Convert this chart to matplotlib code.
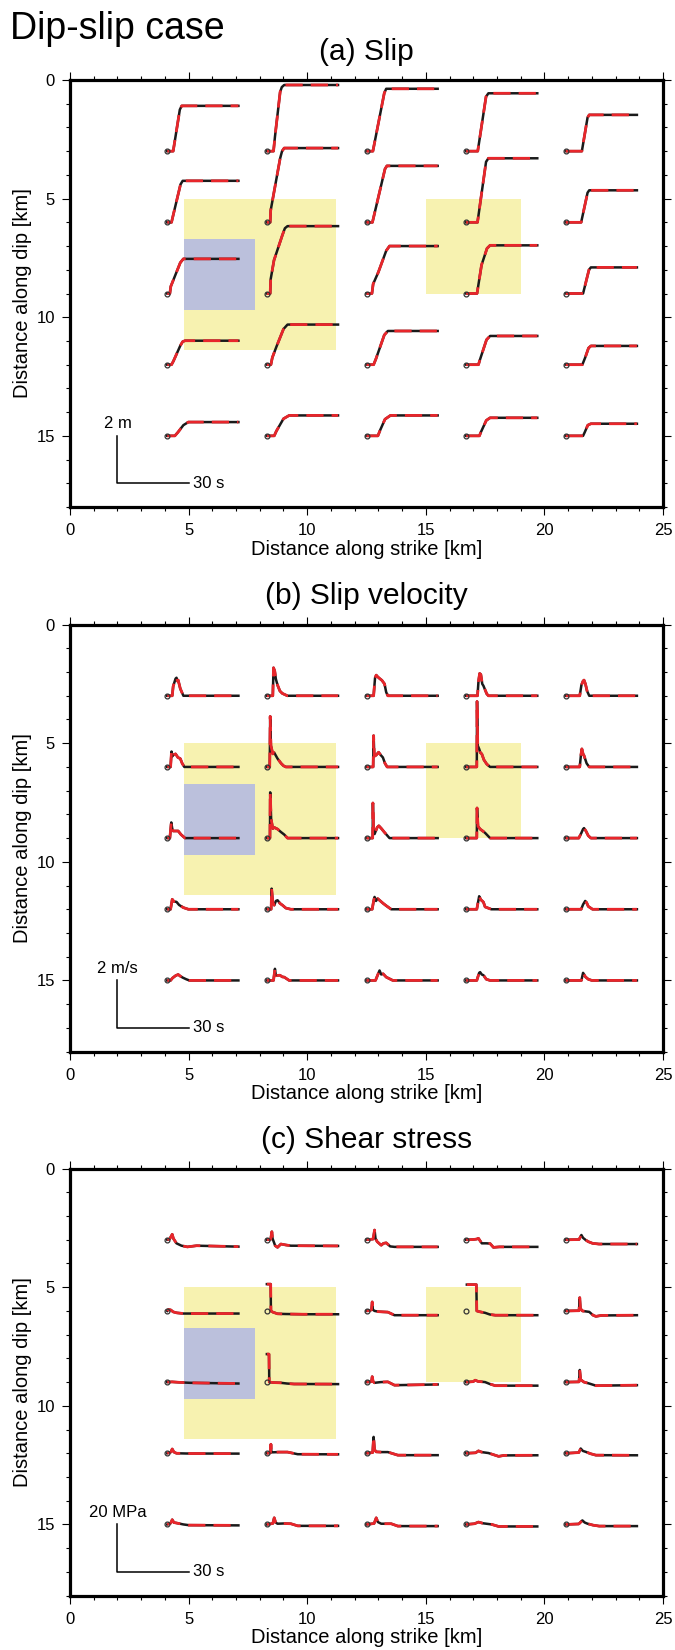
import matplotlib
matplotlib.use('Agg')
import matplotlib.pyplot as plt
from matplotlib.patches import Rectangle
import numpy as np

plt.rcParams['font.family'] = ['Liberation Sans', 'DejaVu Sans']

# ---------------- data ----------------
station_x = [4.1, 8.3, 12.5, 16.7, 20.9]      # km along strike (trace origin)
station_y = [3, 6, 9, 12, 15]                 # km along dip

# asperity regions (x, y, width, height) in km
yellow_rects = [(4.8, 5.0, 6.4, 6.4), (15.0, 5.0, 4.0, 4.0)]
blue_rects = [(4.8, 6.7, 3.0, 3.0)]

# time series keypoints (time [s], value), row by row (dip 3..15), column by column
slip = [
    # dip 3 km
    [(0,0),(2.5,0),(5.3,1.75),(6.1,1.91),(30,1.91)],
    [(0,0),(2.8,0),(3.4,0.6),(5.6,2.5),(6.3,2.7),(7.3,2.79),(30,2.79)],
    [(0,0),(2.7,0),(7.5,2.45),(8.3,2.63),(30,2.63)],
    [(0,0),(4.9,0),(8.4,2.3),(9.4,2.44),(30,2.44)],
    [(0,0),(6.8,0),(9.2,1.42),(9.9,1.53),(30,1.53)],
    # dip 6 km
    [(0,0),(1.8,0),(2.5,0.3),(5.6,1.6),(6.5,1.75),(30,1.75)],
    [(0,0),(1.4,0),(1.6,0.5),(5.6,2.7),(6.4,3.0),(7.3,3.13),(30,3.13)],
    [(0,0),(2.5,0),(7.8,2.25),(8.6,2.38),(30,2.38)],
    [(0,0),(4.8,0),(8.4,2.55),(9.4,2.70),(30,2.70)],
    [(0,0),(6.5,0),(9.2,1.25),(9.9,1.35),(30,1.35)],
    # dip 9 km
    [(0,0),(1.1,0),(1.5,0.3),(5.5,1.3),(6.8,1.46),(30,1.46)],
    [(0,0),(1.4,0),(1.6,0.6),(3.0,1.4),(6.5,2.45),(7.6,2.75),(8.7,2.84),(30,2.84)],
    [(0,0),(2.3,0),(2.8,0.4),(5.0,0.9),(8.3,1.8),(9.7,2.0),(30,2.0)],
    [(0,0),(4.6,0),(6.5,1.2),(8.8,1.9),(10.1,2.03),(30,2.03)],
    [(0,0),(7.3,0),(9.8,1.0),(10.6,1.10),(30,1.10)],
    # dip 12 km
    [(0,0),(1.8,0),(2.6,0.15),(5.5,0.8),(6.5,0.97),(7.5,1.01),(30,1.01)],
    [(0,0),(1.7,0),(2.3,0.3),(4.0,0.75),(7.0,1.5),(8.7,1.69),(30,1.69)],
    [(0,0),(3.0,0),(4.0,0.25),(7.5,1.25),(9.0,1.42),(30,1.42)],
    [(0,0),(5.2,0),(5.8,0.2),(8.6,1.05),(10.1,1.21),(30,1.21)],
    [(0,0),(7.0,0),(8.2,0.3),(9.6,0.7),(10.6,0.79),(30,0.79)],
    # dip 15 km
    [(0,0),(3.2,0),(4.5,0.15),(6.8,0.45),(8.9,0.58),(30,0.58)],
    [(0,0),(3.1,0),(4.0,0.2),(7.0,0.72),(9.4,0.86),(30,0.86)],
    [(0,0),(4.8,0),(5.8,0.25),(7.8,0.7),(10.1,0.86),(30,0.86)],
    [(0,0),(5.6,0),(6.2,0.15),(8.5,0.65),(10.1,0.76),(30,0.76)],
    [(0,0),(7.3,0),(8.0,0.15),(9.3,0.45),(10.6,0.51),(30,0.51)],
]

velocity = [
    # dip 3 km
    [(0,0),(2.1,0),(2.5,0.4),(3.5,0.72),(3.9,0.76),(4.3,0.62),(4.6,0.66),(5.5,0.3),(6.8,0),(30,0)],
    [(0,0),(2.5,0),(2.8,1.18),(3.3,1.05),(3.8,0.7),(4.5,0.45),(5.5,0.2),(6.5,0.1),(8.0,0.03),(8.7,0),(30,0)],
    [(0,0),(3.0,0),(3.6,0.75),(4.1,0.87),(4.7,0.8),(5.5,0.73),(6.5,0.65),(7.6,0.5),(8.3,0.15),(9.0,0),(30,0)],
    [(0,0),(4.8,0),(5.2,0.6),(5.7,0.94),(6.2,0.9),(6.8,0.5),(7.3,0.42),(8.0,0.25),(8.7,0.08),(9.4,0),(30,0)],
    [(0,0),(5.9,0),(6.6,0.45),(7.3,0.62),(7.7,0.66),(8.3,0.5),(9.0,0.2),(9.9,0),(30,0)],
    # dip 6 km
    [(0,0),(1.4,0),(1.8,0.65),(2.2,0.45),(2.5,0.5),(3.5,0.55),(4.5,0.4),(5.5,0.35),(6.3,0.15),(7.2,0),(30,0)],
    [(0,0),(1.2,0),(1.4,2.13),(1.7,0.9),(2.5,0.55),(3.1,0.6),(4.5,0.35),(6.0,0.15),(7.0,0.05),(8.0,0),(30,0)],
    [(0,0),(2.8,0),(3.0,1.32),(3.3,0.45),(4.1,0.5),(5.1,0.62),(6.0,0.5),(6.9,0.4),(7.8,0.15),(8.7,0),(30,0)],
    [(0,0),(4.5,0),(4.6,2.76),(4.9,0.9),(5.5,0.76),(6.0,0.6),(6.6,0.55),(7.5,0.3),(8.7,0.12),(10.1,0),(30,0)],
    [(0,0),(5.9,0),(6.4,0.5),(6.8,0.76),(7.3,0.55),(7.7,0.48),(8.8,0.15),(9.9,0),(30,0)],
    # dip 9 km
    [(0,0),(1.1,0),(1.7,0.66),(2.1,0.4),(2.5,0.3),(3.5,0.3),(4.6,0.3),(5.8,0.15),(7.5,0),(30,0)],
    [(0,0),(1.3,0),(1.4,1.93),(1.8,0.8),(2.5,0.4),(3.1,0.45),(4.5,0.38),(6.0,0.25),(7.3,0.15),(8.7,0),(30,0)],
    [(0,0),(2.6,0),(2.7,1.48),(3.0,0.3),(3.4,0.17),(4.5,0.45),(5.2,0.52),(6.3,0.4),(7.6,0.24),(9.7,0),(30,0)],
    [(0,0),(4.5,0),(4.6,1.27),(5.0,0.5),(5.9,0.38),(7.0,0.3),(8.0,0.22),(10.1,0),(30,0)],
    [(0,0),(5.5,0),(6.5,0.2),(7.3,0.38),(7.7,0.42),(8.5,0.3),(9.5,0.1),(10.6,0),(30,0)],
    # dip 12 km
    [(0,0),(1.4,0),(2.1,0.42),(2.8,0.33),(3.9,0.31),(5.0,0.18),(6.8,0.07),(8.9,0),(30,0)],
    [(0,0),(1.8,0),(2.0,0.87),(2.5,0.3),(3.1,0.17),(3.8,0.35),(4.5,0.38),(5.5,0.25),(6.6,0.17),(8.0,0.05),(10.1,0),(30,0)],
    [(0,0),(2.4,0),(3.0,0.35),(3.4,0.52),(4.0,0.35),(4.7,0.45),(5.5,0.38),(7.0,0.25),(8.3,0.15),(10.4,0),(30,0)],
    [(0,0),(4.5,0),(5.5,0.55),(6.2,0.4),(6.8,0.35),(7.3,0.3),(8.0,0.1),(10.6,0),(30,0)],
    [(0,0),(6.5,0),(7.3,0.2),(8.2,0.35),(8.8,0.28),(9.5,0.12),(11.3,0),(30,0)],
    # dip 15 km
    [(0,0),(1.4,0),(2.2,0.1),(3.5,0.2),(4.6,0.25),(5.5,0.18),(6.5,0.12),(8.0,0.05),(9.3,0),(30,0)],
    [(0,0),(2.8,0),(3.4,0.49),(3.8,0.2),(4.5,0.21),(5.5,0.22),(6.5,0.15),(7.3,0.14),(9.4,0),(30,0)],
    [(0,0),(3.8,0),(4.8,0.25),(5.5,0.42),(6.2,0.25),(7.0,0.28),(8.3,0.14),(11.1,0),(30,0)],
    [(0,0),(4.5,0),(5.5,0.32),(5.9,0.35),(6.6,0.25),(7.3,0.22),(8.5,0.05),(10.1,0),(30,0)],
    [(0,0),(6.6,0),(7.3,0.32),(8.3,0.15),(9.5,0.05),(11.0,0),(30,0)],
]

stress = [
    # dip 3 km
    [(0,0),(1.0,0.3),(2.1,2.3),(2.6,0.5),(3.9,-1.5),(6.0,-2.5),(8.5,-3.0),(10.0,-2.8),(12.4,-2.5),(30,-2.9)],
    [(0,0),(1.6,0.2),(2.1,3.4),(2.4,0.5),(3.5,-2.5),(4.5,-3.2),(5.9,-1.8),(8.0,-2.2),(10.1,-2.5),(30,-2.6)],
    [(0,0),(2.8,0.3),(3.4,4.1),(3.8,0.5),(4.5,-0.8),(6.2,-2.3),(7.2,-1.5),(8.3,-1.3),(10.0,-2.8),(11.8,-3.0),(30,-3.0)],
    [(0,0),(3.0,0.1),(4.5,0.3),(5.2,0.6),(6.6,-1.5),(8.5,-1.5),(10.1,-1.6),(11.5,-3.2),(14.0,-3.0),(30,-3.0)],
    [(0,0),(5.6,0.1),(6.6,2.0),(7.3,0.8),(8.4,-0.1),(9.5,-0.8),(11.3,-1.5),(14.0,-1.8),(30,-1.8)],
    # dip 6 km
    [(0,0),(0.5,0.6),(1.5,0.4),(2.5,-0.4),(4.0,-0.8),(6.8,-1.1),(30,-1.1)],
    [(0,11.3),(1.6,11.3),(1.7,0),(2.5,-0.5),(4.5,-1.2),(8.0,-1.3),(15,-1.4),(30,-1.4)],
    [(0,0),(1.5,0.2),(2.1,0.5),(2.4,3.8),(2.7,0.5),(3.4,0),(5.0,-0.3),(9.0,-0.5),(11.8,-1.8),(30,-1.8)],
    [(0.3,11.1),(4.3,11.1),(4.5,0),(5.5,-0.3),(8.0,-0.8),(10.0,-1.5),(12.3,-1.8),(30,-1.8)],
    [(0,0),(5.6,0.1),(5.9,5.6),(6.2,1.0),(7.0,0),(9.9,-0.4),(11.5,-1.8),(12.7,-2.3),(15,-1.9),(30,-1.8)],
    # dip 9 km
    [(0,0),(2,0.1),(5,-0.1),(9.6,-0.3),(30,-0.6)],
    [(0,11.8),(0.9,11.8),(1.0,0),(3.0,-0.2),(5.9,-0.3),(8.5,-0.6),(11.5,-0.8),(30,-0.85)],
    [(0,0),(2.1,0.2),(2.4,2.3),(2.8,0.2),(3.4,-0.3),(6.0,0),(9.0,0.1),(11.8,-1.3),(30,-1.0)],
    [(0,0),(3.0,0.2),(3.8,0.8),(5.0,0.3),(8.0,0),(10.0,-0.8),(12.3,-1.5),(30,-1.5)],
    [(0,0),(5.6,0.1),(5.9,5.1),(6.3,1.0),(7.7,0),(9.9,-0.6),(12.7,-1.5),(30,-1.3)],
    # dip 12 km
    [(0,0),(1.5,0.5),(2.1,1.8),(2.8,0.5),(3.9,0),(8,-0.1),(30,-0.15)],
    [(0,0),(1.5,0.2),(1.7,3.8),(1.9,0.5),(2.4,0.4),(5,0.5),(8.7,0.5),(13.0,-0.4),(30,-0.45)],
    [(0,0),(2.6,0.3),(3.0,6.9),(3.4,1.5),(4.1,0.6),(6.0,0.5),(9.0,0.5),(13.2,-0.8),(30,-0.8)],
    [(0,0),(4.0,0.2),(5.2,1.0),(6.5,0.5),(9.4,0.1),(13.7,-1.3),(16,-0.9),(30,-0.85)],
    [(0,0),(5.5,0.3),(6.3,2.0),(7.2,1.0),(8.4,0.6),(10.5,-0.2),(12.7,-0.8),(30,-0.85)],
    # dip 15 km
    [(0,0),(1.4,0.5),(2.1,2.0),(2.8,0.8),(3.9,0.6),(6.8,0),(9,-0.3),(30,-0.4)],
    [(0,0),(2.5,0.4),(3.1,2.8),(3.7,0.8),(4.5,0.3),(7,0.4),(10.1,0.3),(13.0,-0.6),(30,-0.6)],
    [(0,0),(3.2,0.4),(4.1,2.8),(4.8,1.0),(6.2,0.3),(10.4,0.3),(13.2,-0.7),(30,-0.7)],
    [(0,0),(3.5,0.3),(5.2,1.0),(7.0,0.5),(10.8,0),(13.7,-0.85),(30,-0.85)],
    [(0,0),(5.5,0.2),(7.0,1.7),(8.0,0.8),(9.2,0.3),(11.5,-0.3),(14.1,-0.7),(30,-0.7)],
]

panel_titles = ['(a) Slip', '(b) Slip velocity', '(c) Shear stress']
bar_labels = ['2 m', '2 m/s', '20 MPa']
km_per_unit = [1.0, 1.0, 0.1]   # vertical km per m, m/s, MPa
km_per_second = 0.1              # 30 s = 3 km
tick_major = [0, 5, 10, 15, 20, 25]
ytick_major = [0, 5, 10, 15]

# ---------------- figure ----------------
W, H = 675, 1650
fig = plt.figure(figsize=(W / 100, H / 100), dpi=100)

ax_left, ax_right = 70, 663
ax_h = 427
tops = [80, 624.6, 1168.6]

YELLOW = '#F7F2B0'
BLUE = '#BBC0DC'
RED = '#E8262B'
BLACK = '#1A1A1A'

fig.text(10 / W, 1 - 39 / H, 'Dip-slip case', fontsize=27, ha='left', va='baseline')

for k, (traces, title, blabel, sc) in enumerate(zip([slip, velocity, stress], panel_titles,
                                                    bar_labels, km_per_unit)):
    top = tops[k]
    ax = fig.add_axes([ax_left / W, 1 - (top + ax_h) / H, (ax_right - ax_left) / W, ax_h / H])
    ax.set_xlim(0, 25)
    ax.set_ylim(18, 0)

    for (x, y, w, h) in yellow_rects:
        ax.add_patch(Rectangle((x, y), w, h, fc=YELLOW, ec='none', zorder=0))
    for (x, y, w, h) in blue_rects:
        ax.add_patch(Rectangle((x, y), w, h, fc=BLUE, ec='none', zorder=0.5))

    for i, tr in enumerate(traces):
        row, col = divmod(i, 5)
        x0, y0 = station_x[col], station_y[row]
        t = np.array([p[0] for p in tr])
        v = np.array([p[1] for p in tr])
        xs = x0 + t * km_per_second
        ys = y0 - v * sc
        ax.plot(xs, ys, color=BLACK, lw=1.8, solid_joinstyle='round', zorder=3)
        ax.plot(xs, ys, color=RED, lw=2.0, dashes=(6.2, 2.9), zorder=4)
        ax.plot([x0], [y0], 'o', ms=3.5, mfc='none', mec='#333333', mew=0.9, zorder=5)

    # scale bar
    ax.plot([2, 2, 5], [15, 17, 17], color='black', lw=1.1, zorder=3)
    ax.text(2.0, 14.8, blabel, ha='center', va='bottom', fontsize=12)
    ax.text(5.2, 17.0, '30 s', ha='left', va='center', fontsize=12)

    ax.set_xticks(tick_major)
    ax.set_xticks(np.arange(0, 26, 1), minor=True)
    ax.set_yticks(ytick_major)
    ax.set_yticks(np.arange(0, 19, 1), minor=True)
    ax.tick_params(which='both', direction='out', top=True, right=True, width=0.8,
                   labelsize=12, colors='black')
    ax.tick_params(which='major', length=5.8)
    ax.tick_params(which='minor', length=3.2)
    ax.tick_params(axis='x', which='major', pad=6)
    ax.tick_params(axis='y', which='major', pad=5)
    for s in ax.spines.values():
        s.set_linewidth(2.3)

    ax.set_xlabel('Distance along strike [km]', fontsize=14.5)
    ax.set_ylabel('Distance along dip [km]', fontsize=14.5)
    ax.xaxis.set_label_coords(0.5, -0.077)
    ax.yaxis.set_label_coords(-0.0648, 0.5)

    ax.text(0.5, 1 + 20.5 / ax_h, title, transform=ax.transAxes, ha='center',
            va='baseline', fontsize=21.5)

fig.savefig('out.png', dpi=100)
